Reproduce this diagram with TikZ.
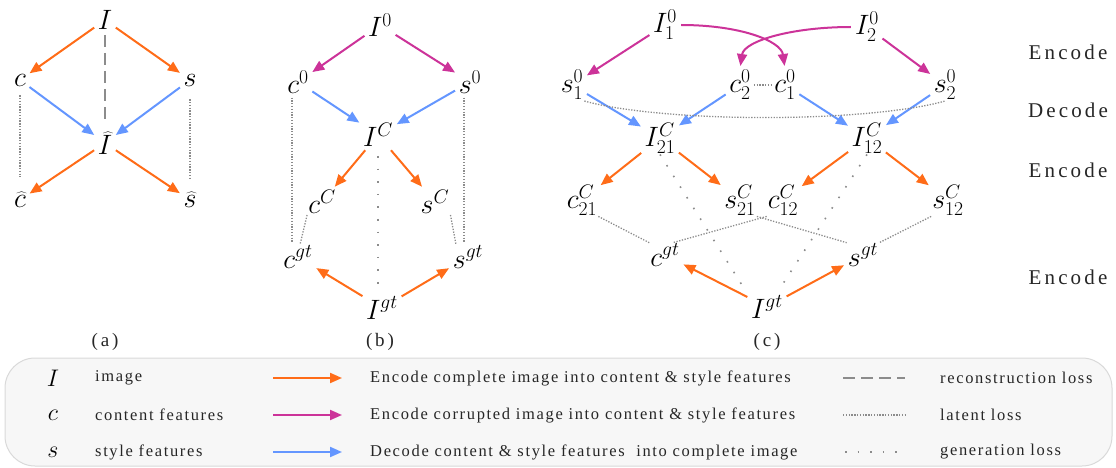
\documentclass[tikz,border=0pt]{standalone}
\usepackage{fix-cm}
\usepackage{fontspec}
\setmainfont{Liberation Serif}
\newfontfamily\legfont[LetterSpace=10]{Liberation Serif}
\newfontfamily\sidefont[LetterSpace=15]{Liberation Serif}
\usetikzlibrary{arrows.meta,calc}
\definecolor{orng}{RGB}{255,108,24}
\definecolor{mgnt}{RGB}{204,51,153}
\definecolor{blu}{RGB}{100,150,255}
\definecolor{lossgray}{RGB}{140,140,140}
\begin{document}
\begin{tikzpicture}[x=1pt,y=-1pt,
  lt/.style={font=\fontsize{28}{30}\selectfont, inner sep=1pt},
  ar/.style={line width=2pt, -{Triangle[length=12pt,width=10pt]}, shorten >=3pt, shorten <=3pt},
  oa/.style={ar, color=orng},
  ma/.style={ar, color=mgnt},
  ba/.style={ar, color=blu},
  lat/.style={draw=lossgray, line width=1.3pt, dash pattern=on 1.3pt off 1.5pt},
  gen/.style={draw=lossgray, line width=1.6pt, dash pattern=on 1.6pt off 11pt},
  rec/.style={draw=lossgray, line width=2pt, dash pattern=on 12pt off 6pt},
  leg/.style={font={\legfont\fontsize{16.5}{18}\selectfont}, anchor=west, inner sep=0pt, text=black!85},
  side/.style={font={\sidefont\fontsize{21}{23}\selectfont}, inner sep=0pt, text=black!85},
  panellbl/.style={font={\sidefont\fontsize{19}{21}\selectfont}, inner sep=0pt, text=black!85},
  sym/.style={font=\fontsize{24}{26}\selectfont, inner sep=0pt}
]
\useasboundingbox (0,0) rectangle (1116,468);

% ---------------- panel (a)
\node[lt] (Ia) at (105,20) {$I$};
\node[lt] (ca) at (20,80) {$c$};
\node[lt] (sa) at (190,80) {$s$};
\node[lt] (Iha) at (105,143) {$\widehat{I}$};
\node[lt] (cha) at (20,200) {$\widehat{c}$};
\node[lt] (sha) at (190,200) {$\widehat{s}$};
\draw[oa] (Ia) -- (ca);
\draw[oa] (Ia) -- (sa);
\draw[ba] (ca) -- (Iha);
\draw[ba] (sa) -- (Iha);
\draw[oa] (Iha) -- (cha);
\draw[oa] (Iha) -- (sha);
\draw[rec, shorten <=4pt, shorten >=6pt] (Ia.south) -- (Iha.north);
\draw[lat, shorten <=8pt, shorten >=14pt] (ca) -- (cha);
\draw[lat, shorten <=12pt, shorten >=12pt] (sa) -- (sha);
\node[panellbl] (capa) at (105,342) {(a)};

% ---------------- panel (b)
\node[lt] (I0b) at (380,25) {$I^{0}$};
\node[lt] (c0b) at (298,82) {$c^{0}$};
\node[lt] (s0b) at (470,82) {$s^{0}$};
\node[lt] (ICb) at (378,135) {$I^{C}$};
\node[lt] (cCb) at (322,202) {$c^{C}$};
\node[lt] (sCb) at (435,202) {$s^{C}$};
\node[lt] (cgb) at (298,257) {$c^{gt}$};
\node[lt] (sgb) at (468,257) {$s^{gt}$};
\node[lt] (Igb) at (382,308) {$I^{gt}$};
\draw[ma] (I0b) -- (c0b);
\draw[ma] (I0b) -- (s0b);
\draw[ba] (c0b) -- (ICb);
\draw[ba] (s0b) -- (ICb);
\draw[oa] (ICb) -- (cCb);
\draw[oa] (ICb) -- (sCb);
\draw[oa] (Igb) -- (cgb);
\draw[oa] (Igb) -- (sgb);
\draw[lat] ($(c0b.south)+(-6,3)$) -- ($(c0b.south |- cgb.north)+(-6,-3)$);
\draw[lat] ($(s0b.south)+(-6,3)$) -- ($(s0b.south |- sgb.north)+(-6,-3)$);
\draw[lat] (cCb.south west) -- ($(cgb.north)+(2,0)$);
\draw[lat] (sCb.south east) -- ($(sgb.north)+(-12,0)$);
\draw[gen] ($(ICb.south)+(0,8)$) -- ($(ICb.south |- Igb.north)+(0,-8)$);
\node[panellbl] (capb) at (380,342) {(b)};

% ---------------- panel (c)
\node[lt] (I10) at (665,25) {$I_{1}^{0}$};
\node[lt] (I20) at (867,27) {$I_{2}^{0}$};
\node[lt] (s10) at (572,85) {$s_{1}^{0}$};
\node[lt] (c20) at (740,85) {$c_{2}^{0}$};
\node[lt] (c10) at (785,85) {$c_{1}^{0}$};
\node[lt] (s20) at (945,85) {$s_{2}^{0}$};
\node[lt] (I21) at (660,138) {$I_{21}^{C}$};
\node[lt] (I12) at (867,138) {$I_{12}^{C}$};
\node[lt] (c21) at (582,200) {$c_{21}^{C}$};
\node[lt] (s21) at (740,200) {$s_{21}^{C}$};
\node[lt] (c12) at (783,200) {$c_{12}^{C}$};
\node[lt] (s12) at (948,200) {$s_{12}^{C}$};
\node[lt] (cgc) at (665,255) {$c^{gt}$};
\node[lt] (sgc) at (863,255) {$s^{gt}$};
\node[lt] (Igc) at (767,307) {$I^{gt}$};
\draw[ma] (I10) -- (s10);
\draw[ma] (I20) -- (s20);
\draw[ma] (I10.east) .. controls +(62,0) and +(-4,-28) .. (c10.north);
\draw[ma] (I20.west) .. controls +(-62,0) and +(4,-28) .. (c20.north);
\draw[ba] (s10) -- (I21);
\draw[ba] (c20) -- (I21);
\draw[ba] (c10) -- (I12);
\draw[ba] (s20) -- (I12);
\draw[oa] (I21) -- (c21);
\draw[oa] (I21) -- (s21);
\draw[oa] (I12) -- (c12);
\draw[oa] (I12) -- (s12);
\draw[oa] (Igc) -- (cgc);
\draw[oa] (Igc) -- (sgc);
\draw[lat, shorten <=2pt, shorten >=2pt] (c20.east) -- (c10.west);
\draw[lat] (s10.south east) .. controls +(80,22) and +(-80,22) .. (s20.south);
\draw[lat] (c21.south east) -- (cgc.north west);
\draw[lat] (c12.south west) -- ($(cgc.north east)+(-8,0)$);
\draw[lat] (s21.south east) -- (sgc.north west);
\draw[lat] (s12.south west) -- (sgc.north east);
\draw[gen] (I21.south) -- ($(Igc.north)+(-24,-8)$);
\draw[gen] (I12.south) -- ($(Igc.north)+(14,-8)$);
\node[panellbl] (capc) at (767,342) {(c)};

% ---------------- side labels
\node[side] (e1) at (1068,52) {Encode};
\node[side] (d1) at (1068,110) {Decode};
\node[side] (e2) at (1068,170) {Encode};
\node[side] (e3) at (1068,277) {Encode};

% ---------------- legend
\node[draw=black!15, fill=black!3, line width=1pt, rounded corners=30pt,
      minimum width=1107pt, minimum height=108pt, inner sep=0pt] (legbox) at (558.5,412) {};
\node[sym] (lI) at (53,378) {$I$};
\node[sym] (lc) at (53,415) {$c$};
\node[sym] (ls) at (53,452) {$s$};
\node[leg] (tI) at (95,378) {image};
\node[leg] (tc) at (95,415) {content features};
\node[leg] (ts) at (95,452) {style features};
\coordinate (a1s) at (273,378); \coordinate (a1e) at (342,378);
\coordinate (a2s) at (273,415); \coordinate (a2e) at (342,415);
\coordinate (a3s) at (273,452); \coordinate (a3e) at (342,452);
\draw[oa, shorten <=0pt, shorten >=0pt] (a1s) -- (a1e);
\draw[ma, shorten <=0pt, shorten >=0pt] (a2s) -- (a2e);
\draw[ba, shorten <=0pt, shorten >=0pt] (a3s) -- (a3e);
\node[leg] (t1) at (370,378) {Encode complete image into content \& style features};
\node[leg] (t2) at (370,415) {Encode corrupted image into content \& style features};
\node[leg] (t3) at (370,452) {Decode content \& style features\ \ into complete image};
\coordinate (l1s) at (843,378); \coordinate (l1e) at (905,378);
\coordinate (l2s) at (843,415); \coordinate (l2e) at (905,415);
\coordinate (l3s) at (845,452); \coordinate (l3e) at (905,452);
\draw[rec] (l1s) -- (l1e);
\draw[lat] (l2s) -- (l2e);
\draw[gen] (l3s) -- (l3e);
\node[leg] (r1) at (940,378) {reconstruction loss};
\node[leg] (r2) at (940,415) {latent loss};
\node[leg] (r3) at (940,452) {generation loss};
\end{tikzpicture}
\end{document}
